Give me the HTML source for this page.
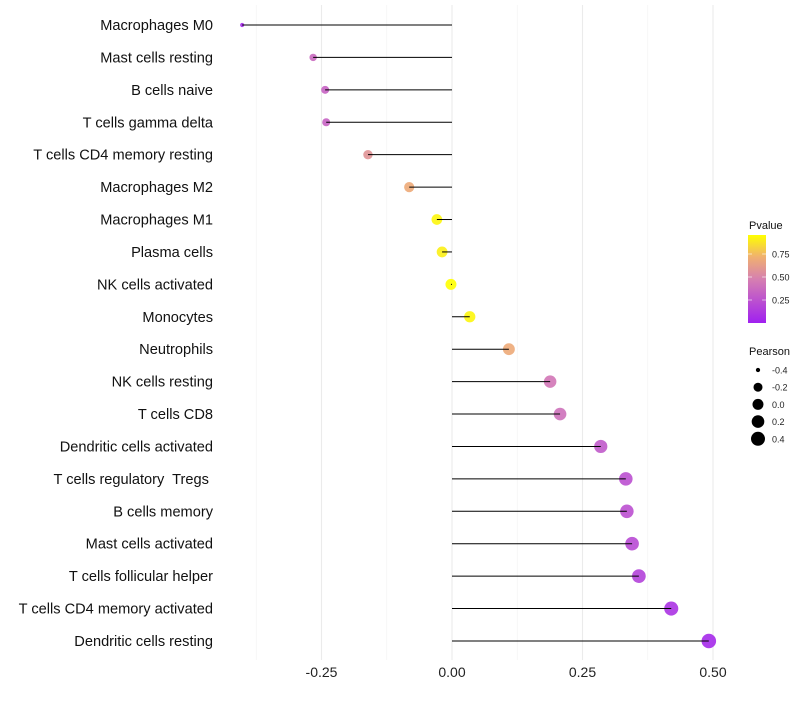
<!DOCTYPE html>
<html><head><meta charset="utf-8"><style>
body{margin:0;background:#fff;font-family:"Liberation Sans",sans-serif;}
text{white-space:pre;}
</style></head><body>
<svg id="chart" width="800" height="700" xmlns="http://www.w3.org/2000/svg" font-family="Liberation Sans, sans-serif"></svg>
<script>
const categories=["Macrophages M0","Mast cells resting","B cells naive","T cells gamma delta","T cells CD4 memory resting","Macrophages M2","Macrophages M1","Plasma cells","NK cells activated","Monocytes","Neutrophils","NK cells resting","T cells CD8","Dendritic cells activated","T cells regulatory  Tregs ","B cells memory","Mast cells activated","T cells follicular helper","T cells CD4 memory activated","Dendritic cells resting"];
const pearson=[-0.402,-0.266,-0.243,-0.241,-0.161,-0.082,-0.029,-0.019,-0.002,0.034,0.109,0.188,0.207,0.285,0.333,0.335,0.345,0.358,0.42,0.492];
const pvalue=[0.05,0.38,0.35,0.35,0.6,0.72,0.97,0.95,1.0,0.97,0.72,0.45,0.42,0.3,0.25,0.25,0.22,0.18,0.1,0.05];
const xTicks=[-0.25,0,0.25,0.5];
const xTickLabels=["-0.25","0.00","0.25","0.50"];
const sizeLegend=[-0.4,-0.2,0.0,0.2,0.4];
const sizeLegendLabels=["-0.4","-0.2","0.0","0.2","0.4"];
const colorTicks=[0.25,0.5,0.75];
const colorTickLabels=["0.25","0.50","0.75"];

const svg=document.getElementById('chart');
const NS="http://www.w3.org/2000/svg";
function mk(t,a,p){const e=document.createElementNS(NS,t);for(const k in a)e.setAttribute(k,a[k]);(p||svg).appendChild(e);return e;}
const x=v=>452+v*522;
const y=i=>25+i*32.42;
const rStops=[[-0.41,2],[-0.2,4.5],[0,5.5],[0.2,6.3],[0.4,7],[0.5,7.3]];
function r(v){for(let i=1;i<rStops.length;i++){if(v<=rStops[i][0]){const t=(v-rStops[i-1][0])/(rStops[i][0]-rStops[i-1][0]);return rStops[i-1][1]+t*(rStops[i][1]-rStops[i-1][1]);}}return 7.3;}
function lerp(a,b,t){return a.map((c,i)=>Math.round(c+(b[i]-c)*t));}
const stops=[[0,[160,32,240]],[0.5,[214,128,176]],[0.75,[240,176,112]],[1,[255,255,0]]];
function col(p){for(let i=1;i<stops.length;i++){if(p<=stops[i][0]){const t=(p-stops[i-1][0])/(stops[i][0]-stops[i-1][0]);const c=lerp(stops[i-1][1],stops[i][1],t);return `rgb(${c})`;}}return 'rgb(255,255,0)';}

[-0.375,-0.125,0.125,0.375].forEach(v=>{const g=mk('line',{x1:x(v),x2:x(v),y1:5,y2:660,stroke:'#f2f2f2','stroke-width':0.6});

});
xTicks.forEach((v,i)=>{const g=mk('line',{x1:x(v),x2:x(v),y1:5,y2:660,stroke:'#ebebeb','stroke-width':1.1});


const t=mk('text',{x:x(v),y:677,'text-anchor':'middle','font-size':14,fill:'#222'});t.textContent=xTickLabels[i];

});

categories.forEach((c,i)=>{
const t=mk('text',{x:213,y:y(i)+5,'text-anchor':'end','font-size':14.6,fill:'#111','xml:space':'preserve'});t.textContent=c;


const d=mk('circle',{cx:x(pearson[i]),cy:y(i),r:r(pearson[i]),fill:col(pvalue[i]),'fill-opacity':0.9});


const l=mk('line',{x1:x(0),x2:x(pearson[i]),y1:y(i),y2:y(i),stroke:'#000','stroke-width':1});


});

const lt=mk('text',{x:749,y:229,'font-size':11,fill:'#111'});lt.textContent='Pvalue';


const defs=mk('defs',{});const gr=mk('linearGradient',{id:'pg',x1:0,y1:1,x2:0,y2:0},defs);
stops.forEach(s=>mk('stop',{offset:s[0],'stop-color':`rgb(${s[1]})`},gr));
const cb=mk('rect',{x:748,y:235,width:18,height:88,fill:'url(#pg)'});


const cy=p=>323-p*92;
colorTicks.forEach((p,i)=>{const t=mk('text',{x:772,y:cy(p)+3.5,'font-size':9,fill:'#222'});t.textContent=colorTickLabels[i];


mk('line',{x1:748,x2:752,y1:cy(p),y2:cy(p),stroke:'#fff','stroke-width':0.6});mk('line',{x1:762,x2:766,y1:cy(p),y2:cy(p),stroke:'#fff','stroke-width':0.6});});

const st=mk('text',{x:749,y:355,'font-size':11,fill:'#111'});st.textContent='Pearson';


sizeLegend.forEach((v,i)=>{const yy=370+i*17.2;
const c=mk('circle',{cx:758,cy:yy,r:r(v),fill:'#000'});


const t=mk('text',{x:772,y:yy+3.5,'font-size':9,fill:'#222'});t.textContent=sizeLegendLabels[i];

});
</script>
</body></html>
